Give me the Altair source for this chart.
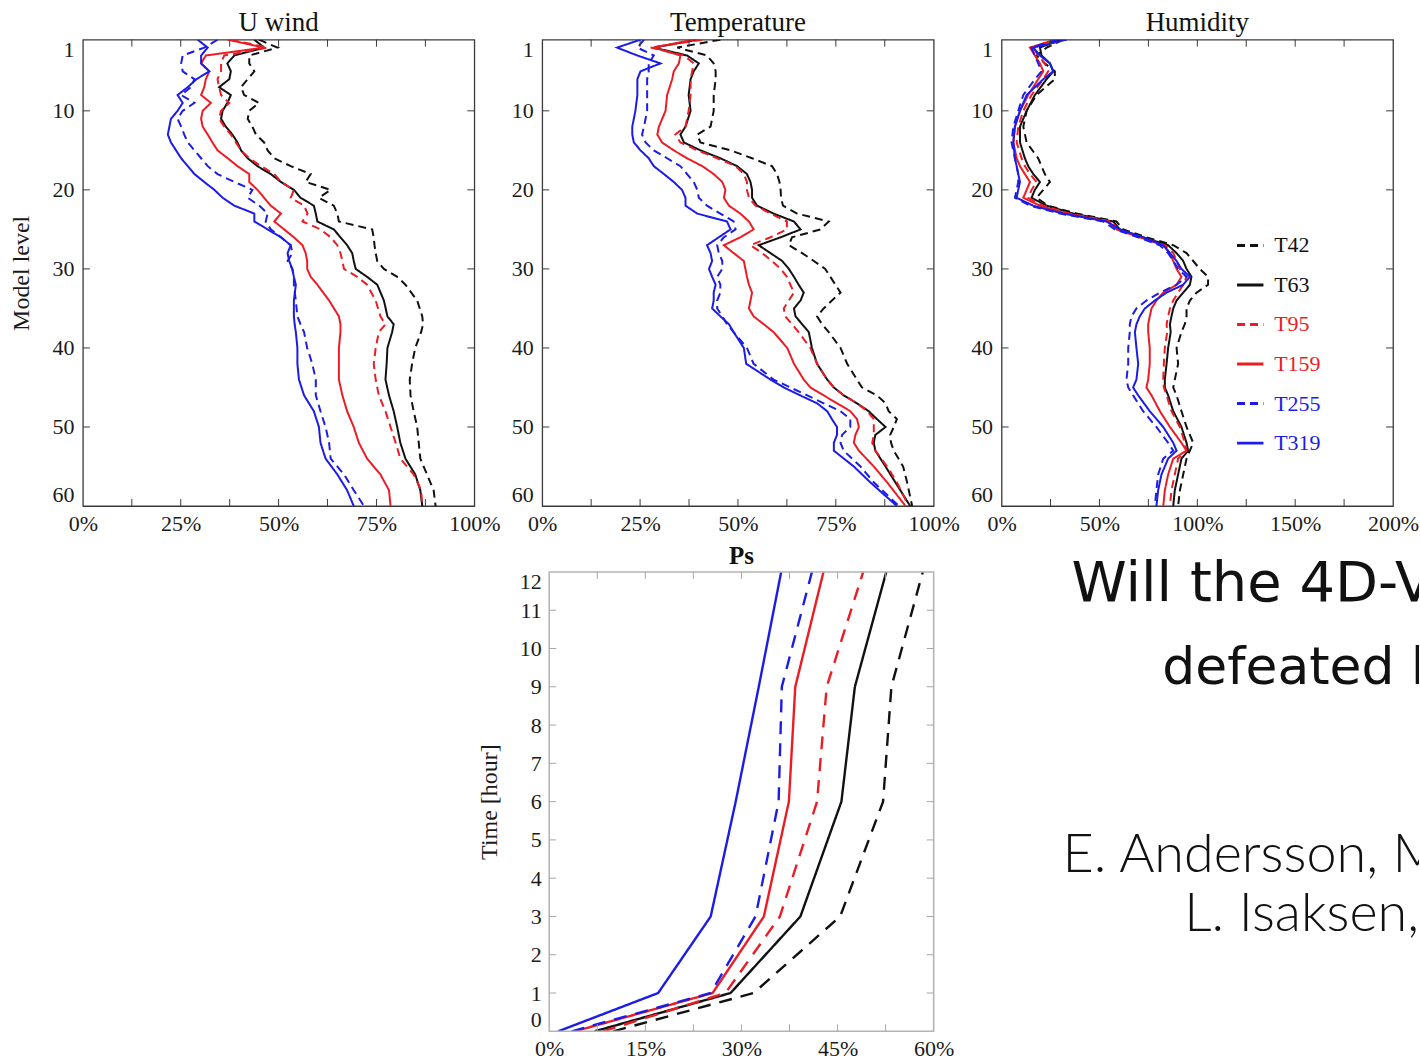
import altair as alt
import pandas as pd

SERIF = "Liberation Serif"
SERIES = ["T42", "T63", "T95", "T159", "T255", "T319"]
COLORS = ["#111111", "#111111", "#ec1c24", "#ec1c24", "#1c1ce8", "#1c1ce8"]
DASH_TOP = [[8, 5], [1, 0], [8, 5], [1, 0], [8, 5], [1, 0]]
DASH_PS = [[13, 9], [1, 0], [13, 9], [1, 0], [13, 9], [1, 0]]

# ---------------- U wind ----------------
U_LEVELS = list(range(1, 33)) + [34, 36, 37, 38, 40, 42, 44, 46, 48, 50, 52, 54, 56, 58, 60]
U_T42 = [45.0, 49.7, 42.5, 42.5, 43.8, 42.1, 40.4, 41.2, 45.0, 42.5,
         42.1, 43.3, 44.2, 46.3, 47.2, 48.9, 53.1, 58.2, 56.9, 63.3,
         60.3, 64.1, 65.0, 65.4, 73.9, 74.3, 74.5, 74.8, 75.2, 76.9,
         80.3, 82.4, 85.4, 86.7, 86.9, 86.4, 84.9, 84.1, 83.5, 83.7,
         84.5, 85.4, 85.8, 86.2, 87.9, 89.6, 90.1]
U_T63 = [43.8, 46.3, 38.7, 36.9, 37.8, 37.4, 34.8, 37.8, 36.9, 35.7,
         35.3, 36.5, 38.2, 39.5, 40.4, 42.1, 44.6, 48.0, 50.6, 53.9,
         55.6, 59.0, 59.5, 59.9, 64.1, 65.8, 67.5, 68.8, 69.2, 69.7,
         72.6, 75.2, 76.9, 77.8, 79.4, 79.0, 77.8, 77.6, 77.3, 78.2,
         79.4, 80.3, 81.1, 82.4, 84.9, 86.2, 86.7]
U_T95 = [37.8, 47.2, 36.1, 35.3, 35.3, 34.4, 34.8, 35.3, 37.4, 35.3,
         34.8, 36.1, 37.8, 39.1, 40.4, 42.5, 45.5, 48.9, 50.6, 53.9,
         53.1, 56.5, 57.4, 56.1, 60.7, 63.3, 65.0, 65.8, 66.3, 66.7,
         70.1, 72.6, 74.8, 76.0, 77.3, 75.6, 74.8, 74.3, 74.8, 75.6,
         77.3, 78.6, 79.9, 81.1, 84.5, 86.4, 86.7]
U_T159 = [37.0, 46.3, 31.4, 30.2, 32.3, 31.4, 31.0, 30.2, 32.7, 30.6,
          30.2, 30.6, 31.9, 33.1, 34.4, 37.0, 39.5, 42.5, 42.5, 44.6,
          46.3, 48.0, 50.6, 48.9, 51.4, 53.9, 56.1, 56.9, 57.3, 57.3,
          58.2, 59.9, 62.9, 65.4, 65.8, 65.8, 65.4, 65.4, 65.4, 66.3,
          67.5, 69.2, 70.5, 72.6, 76.0, 78.2, 78.6]
U_T255 = [34.4, 31.0, 25.5, 25.1, 25.5, 28.5, 27.6, 25.1, 28.5, 25.5,
          24.2, 25.1, 25.9, 26.8, 28.5, 30.2, 31.9, 34.4, 38.7, 43.3,
          42.1, 45.1, 47.2, 46.7, 48.0, 50.6, 53.1, 53.5, 52.3, 53.5,
          53.9, 53.9, 54.4, 54.8, 55.6, 56.5, 57.3, 58.6, 59.5, 59.5,
          60.7, 62.0, 62.9, 63.3, 66.7, 69.2, 71.8]
U_T319 = [29.3, 31.9, 30.2, 30.2, 32.3, 29.0, 26.8, 24.2, 25.5, 24.2,
          22.5, 22.1, 21.7, 22.5, 23.8, 25.1, 26.8, 28.5, 31.0, 33.6,
          35.7, 38.7, 43.8, 43.8, 47.2, 50.6, 53.1, 52.3, 52.7, 53.5,
          53.9, 54.4, 53.9, 53.9, 54.1, 54.4, 54.8, 54.8, 55.2, 56.5,
          59.0, 60.3, 60.7, 62.0, 65.0, 67.5, 69.2]

# ---------------- Temperature ----------------
T_LEVELS = [1, 2, 3, 4, 5, 6, 8, 10, 12] + list(range(13, 39)) + [40, 42, 44] + \
    list(range(45, 54)) + [55, 57, 60]
T_T42 = [45.5, 34.5, 42.1, 43.8, 44.3, 44.3, 43.8, 43.8, 43.0,
         39.6, 40.4, 48.1, 53.6, 58.7, 60.0, 60.6, 60.9, 61.0, 61.5, 65.1, 73.2, 71.1,
         63.8, 63.0, 66.4, 69.4, 72.3, 73.6, 74.9, 76.2, 74.0, 71.9, 70.2, 71.5, 73.2,
         76.2, 77.9, 80.4,
         81.7, 85.5, 87.7, 88.5, 90.6, 89.8, 88.9, 89.1, 89.8,
         92.2, 93.2, 94.5]
T_T63 = [39.6, 28.5, 37.0, 40.0, 38.7, 37.9, 37.4, 37.9, 36.6,
         35.3, 36.2, 40.4, 45.5, 49.8, 52.3, 53.2, 53.6, 53.6, 54.9, 59.1, 64.3, 66.0,
         60.9, 55.3, 58.3, 61.3, 63.0, 64.3, 65.5, 66.8, 66.0, 64.3, 64.7, 66.4, 68.1,
         68.9, 70.2, 72.8,
         74.5, 77.0, 80.4, 83.4, 85.5, 87.7, 85.1, 84.7, 85.1,
         87.7, 90.2, 94.0]
T_T95 = [40.9, 27.7, 36.2, 38.7, 38.3, 37.9, 37.9, 37.4, 36.6,
         34.0, 35.3, 39.6, 44.7, 49.4, 51.5, 52.3, 52.3, 52.8, 54.5, 58.3, 62.5, 62.5,
         58.3, 53.2, 56.2, 58.7, 60.9, 62.5, 63.4, 64.3, 63.0, 61.7, 62.1, 63.8, 65.5,
         68.5, 70.2, 72.8,
         74.5, 77.0, 80.4, 83.0, 84.7, 84.7, 84.7, 84.3, 85.1,
         88.1, 90.6, 93.6]
T_T159 = [38.7, 28.5, 35.3, 34.9, 33.6, 33.2, 31.9, 31.5, 29.8,
          29.4, 30.6, 33.6, 37.0, 40.9, 43.8, 46.0, 46.8, 46.4, 47.7, 50.6, 52.8, 54.0,
          50.6, 46.4, 48.9, 51.5, 51.9, 52.3, 52.8, 53.6, 53.2, 52.8, 54.0, 56.6, 59.1,
          62.6, 64.3, 66.8,
          68.5, 71.9, 75.3, 78.7, 80.4, 80.9, 80.0, 79.6, 80.9,
          84.7, 88.1, 92.8]
T_T255 = [26.0, 24.3, 28.5, 27.2, 27.2, 26.8, 26.8, 26.8, 26.0,
          25.5, 26.4, 28.5, 31.9, 35.3, 37.0, 38.7, 39.6, 40.0, 42.1, 45.5, 48.9, 49.4,
          46.4, 44.7, 45.1, 46.0, 46.0, 44.7, 45.5, 45.5, 44.7, 44.7, 46.0, 47.2, 48.9,
          52.3, 54.0, 59.1,
          63.4, 67.7, 71.9, 76.2, 78.7, 78.7, 76.6, 76.2, 77.0,
          81.3, 84.7, 91.1]
T_T319 = [25.1, 19.1, 24.3, 30.2, 25.1, 24.3, 24.3, 23.8, 23.0,
          23.0, 23.4, 25.1, 27.2, 28.5, 31.1, 33.6, 35.7, 36.6, 36.6, 39.6, 47.2, 48.1,
          45.1, 42.1, 43.0, 43.4, 42.6, 43.4, 44.3, 43.8, 43.8, 43.4, 45.5, 47.7, 48.9,
          51.5, 52.1, 58.3,
          61.7, 65.9, 70.2, 72.8, 74.0, 75.3, 75.3, 74.5, 74.5,
          79.6, 83.8, 90.6]

# ---------------- Humidity ----------------
H_LEVELS = [1, 2, 3, 4, 5, 6, 8, 10, 12, 14] + list(range(16, 39)) + \
    [40, 42, 44, 45, 46, 48, 50, 52, 53, 54, 56, 58, 60]
H_T42 = [31.5, 23.0, 17.9, 22.1, 27.2, 27.2, 17.9, 12.8, 11.1, 12.8,
         18.7, 20.4, 22.1, 24.7, 21.3, 17.9, 23.8, 38.3, 58.7, 62.1, 74.0, 87.7,
         94.5, 97.9, 101.3, 105.5, 105.5, 99.6, 96.2, 94.5, 94.5, 93.6, 91.9,
         89.4, 90.2, 88.5, 87.7, 89.4, 91.9, 94.5, 97.9, 96.2, 94.5, 92.8, 91.1, 90.2]
H_T63 = [29.8, 19.6, 20.4, 24.7, 26.4, 23.0, 17.0, 12.8, 9.4, 9.4,
         11.9, 13.6, 16.2, 19.6, 17.0, 15.3, 23.0, 36.6, 57.0, 60.4, 72.3, 85.1,
         89.4, 92.8, 94.5, 97.0, 96.2, 92.8, 89.4, 87.7, 86.8, 86.0, 86.4,
         85.1, 84.3, 83.4, 83.4, 85.1, 87.7, 91.9, 94.5, 95.3, 91.9, 90.2, 88.5, 87.7]
H_T95 = [28.1, 16.2, 18.7, 22.1, 23.8, 21.3, 15.3, 11.1, 8.5, 7.7,
         10.2, 11.9, 14.5, 17.9, 15.3, 13.6, 21.3, 34.9, 56.2, 59.6, 71.5, 83.4,
         87.7, 89.4, 91.1, 94.5, 92.8, 90.2, 87.7, 86.0, 85.1, 84.3, 84.6,
         83.4, 82.9, 82.6, 82.9, 84.3, 86.8, 91.1, 93.6, 94.5, 90.2, 88.5, 86.8, 86.0]
H_T159 = [27.2, 14.5, 17.0, 19.6, 21.3, 18.7, 13.6, 9.4, 6.8, 6.0,
          7.7, 9.4, 11.9, 14.5, 12.8, 11.1, 19.6, 33.2, 54.5, 58.7, 70.6, 82.6,
          86.0, 87.7, 89.4, 91.9, 89.4, 82.6, 79.1, 76.6, 75.7, 74.9, 74.9,
          75.7, 75.7, 74.9, 74.0, 76.6, 80.9, 86.0, 91.9, 94.5, 87.7, 85.1, 83.4, 82.6]
H_T255 = [28.1, 15.3, 17.0, 18.7, 20.4, 17.0, 11.1, 8.5, 6.0, 5.1,
          6.8, 7.7, 8.5, 8.5, 7.7, 6.8, 14.5, 29.8, 51.9, 57.9, 69.8, 80.9,
          85.1, 87.7, 90.2, 94.5, 89.4, 80.9, 74.0, 68.9, 66.4, 65.5, 65.5,
          64.7, 64.7, 63.8, 64.7, 67.2, 72.3, 79.1, 85.1, 87.7, 82.6, 80.0, 79.1, 78.3]
H_T319 = [33.2, 16.2, 19.6, 24.7, 26.4, 21.3, 12.8, 9.4, 6.8, 6.0,
          6.8, 7.7, 8.5, 9.4, 8.5, 7.7, 16.2, 31.5, 53.6, 60.4, 72.3, 82.6,
          86.0, 89.4, 91.9, 96.2, 92.8, 84.3, 78.3, 73.2, 70.6, 68.9, 68.1,
          68.9, 69.8, 68.9, 67.2, 69.8, 75.7, 82.6, 87.7, 89.4, 85.1, 81.7, 80.0, 79.1]

# ---------------- Ps ----------------
PS_HOURS = [0, 1, 3, 6, 9, 12]
PS_T42 = [10.0, 31.9, 45.4, 52.1, 53.4, 58.3]
PS_T63 = [7.1, 28.3, 39.2, 45.6, 47.7, 52.6]
PS_T95 = [8.4, 27.5, 36.0, 41.8, 43.3, 49.0]
PS_T159 = [4.0, 25.5, 33.5, 37.4, 38.4, 42.8]
PS_T255 = [3.5, 25.2, 32.2, 35.8, 36.3, 41.0]
PS_T319 = [1.4, 17.0, 25.2, 29.1, 32.7, 36.2]

# tick / label values
Y_LABELS = [1, 10, 20, 30, 40, 50, 60]
Y_TICKS = [10, 20, 30, 40, 50]
PCT100_LABELS = [0, 25, 50, 75, 100]
PCT100_TICKS = [12.5, 25, 37.5, 50, 62.5, 75, 87.5]
PCT200_LABELS = [0, 50, 100, 150, 200]
PCT200_TICKS = [25, 50, 75, 100, 125, 150, 175]
PS_X_LABELS = [0, 15, 30, 45, 60]
PS_X_TICKS = [7.5, 15, 22.5, 30, 37.5, 45, 52.5]
PS_Y_LABELS = list(range(0, 13))
PS_Y_TICKS = list(range(1, 12))

TEXT_LINES = ["Will the 4D-Var", "defeated by", "E. Andersson, M.", "L. Isaksen,"]


def long_df(levels, tables, key):
    rows = []
    for name, vals in zip(SERIES, tables):
        assert len(vals) == len(levels), (name, len(vals), len(levels))
        for lv, v in zip(levels, vals):
            rows.append({key: lv, "value": v, "series": name})
    return pd.DataFrame(rows)


U_DF = long_df(U_LEVELS, [U_T42, U_T63, U_T95, U_T159, U_T255, U_T319], "level")
T_DF = long_df(T_LEVELS, [T_T42, T_T63, T_T95, T_T159, T_T255, T_T319], "level")
H_DF = long_df(H_LEVELS, [H_T42, H_T63, H_T95, H_T159, H_T255, H_T319], "level")
PS_DF = long_df(PS_HOURS, [PS_T42, PS_T63, PS_T95, PS_T159, PS_T255, PS_T319], "hour")

FRAME_DARK = "#3a3a3a"
FRAME_LIGHT = "#b4b4b4"
LABEL_COLOR = "#1a1a1a"
TICK_LEN = 7
W_TOP, H_TOP = 392, 467
PS_CELL_W, PS_CELL_H = 392, 488
PS_X0, PS_X1, PS_Y0, PS_Y1 = 7, 392, 28, 488
ONE = pd.DataFrame({"a": [0]})


def tick_layers(xs, ys, xax, yax, xticks, yticks, x0, x1, y0, y1, color):
    xt = pd.DataFrame({"t": xticks})
    yt = pd.DataFrame({"t": yticks})
    bx = alt.X("t:Q", scale=xs, axis=xax)
    by = alt.Y("t:Q", scale=ys, axis=yax)
    rule = dict(color=color, strokeWidth=1)
    return [
        alt.Chart(xt).mark_rule(**rule).encode(x=bx, y=alt.value(y0), y2=alt.value(y0 + TICK_LEN)),
        alt.Chart(xt).mark_rule(**rule).encode(x=bx, y=alt.value(y1), y2=alt.value(y1 - TICK_LEN)),
        alt.Chart(yt).mark_rule(**rule).encode(y=by, x=alt.value(x0), x2=alt.value(x0 + TICK_LEN)),
        alt.Chart(yt).mark_rule(**rule).encode(y=by, x=alt.value(x1), x2=alt.value(x1 - TICK_LEN)),
    ]


def label_color_expr():
    parts = []
    for name, col in zip(SERIES, COLORS):
        parts.append(f"datum.label === '{name}' ? '{col}' : ")
    return "".join(parts) + "'#000000'"


def x_axis(values, pad):
    return alt.Axis(values=values, labelExpr="datum.value + '%'", title=None,
                    domain=False, ticks=False, grid=False, labelFlush=False,
                    labelOverlap=False, labelFont=SERIF, labelFontSize=22,
                    labelColor=LABEL_COLOR, labelPadding=pad)


def title_mark(text, x, y, size, weight):
    return alt.Chart(ONE).mark_text(font=SERIF, fontSize=size, fontWeight=weight,
                                    color="#111111", align="center",
                                    baseline="alphabetic").encode(
        x=alt.value(x), y=alt.value(y), text=alt.value(text))


def profile_panel(df, title, xmax, xlabels, xticks, ytitle=None, with_legend=False):
    xs = alt.Scale(domain=[0, xmax], nice=False, zero=False)
    ys = alt.Scale(domain=[60, 1], nice=False, zero=False)
    yax = dict(values=Y_LABELS, domain=False, ticks=False, grid=False,
               labelFlush=True, labelOverlap=False, labelFont=SERIF,
               labelFontSize=22, labelColor=LABEL_COLOR, labelPadding=9)
    if ytitle:
        y_ax = alt.Axis(title=ytitle, titleFont=SERIF, titleFontSize=24,
                        titleFontWeight="normal", titleColor=LABEL_COLOR,
                        titlePadding=18, **yax)
    else:
        y_ax = alt.Axis(title=None, **yax)
    x_ax = x_axis(xlabels, 8)
    if with_legend:
        leg = alt.Legend(orient="none", legendX=234, legendY=191, title=None,
                         symbolType="stroke", symbolSize=700, symbolStrokeWidth=3,
                         labelFont=SERIF, labelFontSize=22, labelOffset=9,
                         rowPadding=13.6, padding=0,
                         labelColor=alt.ExprRef(expr=label_color_expr()))
    else:
        leg = None
    lines = alt.Chart(df).mark_line(strokeWidth=2, clip=True).encode(
        x=alt.X("value:Q", scale=xs, axis=x_ax),
        y=alt.Y("level:Q", scale=ys, axis=y_ax),
        color=alt.Color("series:N", scale=alt.Scale(domain=SERIES, range=COLORS), legend=leg),
        strokeDash=alt.StrokeDash("series:N", scale=alt.Scale(domain=SERIES, range=DASH_TOP), legend=leg),
        order=alt.Order("level:Q"),
    )
    layers = [lines] + tick_layers(xs, ys, x_ax, y_ax, xticks, Y_TICKS,
                                   0, W_TOP, 0, H_TOP, FRAME_DARK)
    layers.append(title_mark(title, W_TOP / 2, -9, 27, "normal"))
    return alt.layer(*layers).properties(
        width=W_TOP, height=H_TOP,
        view=alt.ViewBackground(stroke=FRAME_DARK, strokeWidth=1.3),
    )


def ps_panel():
    xs = alt.Scale(domain=[0, 60], range=[PS_X0, PS_X1], nice=False, zero=False)
    ys = alt.Scale(domain=[0, 12], range=[PS_Y1, PS_Y0], nice=False, zero=False)
    y_ax = alt.Axis(values=PS_Y_LABELS, title="Time [hour]", titleFont=SERIF,
                    titleFontSize=24, titleFontWeight="normal", titleColor=LABEL_COLOR,
                    titlePadding=18, domain=False, ticks=False, grid=False,
                    labelFlush=True, labelOverlap=False, labelFont=SERIF,
                    labelFontSize=22, labelColor=LABEL_COLOR, labelPadding=1)
    x_ax = x_axis(PS_X_LABELS, 7)
    lines = alt.Chart(PS_DF).mark_line(strokeWidth=2.4, clip=True).encode(
        x=alt.X("value:Q", scale=xs, axis=x_ax),
        y=alt.Y("hour:Q", scale=ys, axis=y_ax),
        color=alt.Color("series:N", scale=alt.Scale(domain=SERIES, range=COLORS), legend=None),
        strokeDash=alt.StrokeDash("series:N", scale=alt.Scale(domain=SERIES, range=DASH_PS), legend=None),
        order=alt.Order("hour:Q"),
    )
    frame = alt.Chart(ONE).mark_rect(fill="transparent", stroke=FRAME_LIGHT, strokeWidth=1.6).encode(
        x=alt.value(PS_X0), x2=alt.value(PS_X1), y=alt.value(PS_Y0), y2=alt.value(PS_Y1))
    layers = [lines, frame, title_mark("Ps", (PS_X0 + PS_X1) / 2, PS_Y0 - 8, 25, "bold")]
    layers += tick_layers(xs, ys, x_ax, y_ax, PS_X_TICKS, PS_Y_TICKS,
                          PS_X0, PS_X1, PS_Y0, PS_Y1, "#a8a8a8")
    return alt.layer(*layers).properties(
        width=PS_CELL_W, height=PS_CELL_H,
        view=alt.ViewBackground(stroke="transparent"),
    )


def spacer(w, h):
    return alt.Chart(ONE).mark_point(opacity=0).encode(
        x=alt.X("a:Q", axis=None), y=alt.Y("a:Q", axis=None)
    ).properties(width=w, height=h, view=alt.ViewBackground(stroke="transparent"))


def text_panel():
    specs = [
        (TEXT_LINES[0], 70, 57, "DejaVu Sans", 56, "normal"),
        (TEXT_LINES[1], 161, 140, "DejaVu Sans", 52, "normal"),
        (TEXT_LINES[2], 61, 328, "Lato", 54, 300),
        (TEXT_LINES[3], 183, 388, "Lato", 54, 300),
    ]
    layers = []
    for s, x, y, font, size, weight in specs:
        layers.append(
            alt.Chart(ONE).mark_text(align="left", baseline="alphabetic", font=font,
                                     fontSize=size, fontWeight=weight, color="#111111",
                                     clip=True).encode(
                x=alt.value(x), y=alt.value(y), text=alt.value(s))
        )
    return alt.layer(*layers).properties(
        width=418, height=430, view=alt.ViewBackground(stroke="transparent"))


u = profile_panel(U_DF, "U wind", 100, PCT100_LABELS, PCT100_TICKS, ytitle="Model level")
t = profile_panel(T_DF, "Temperature", 100, PCT100_LABELS, PCT100_TICKS)
h = profile_panel(H_DF, "Humidity", 200, PCT200_LABELS, PCT200_TICKS, with_legend=True)

RES_S = dict(color="independent", strokeDash="independent")

chart = alt.concat(u, t, h, spacer(392, 10), ps_panel(), text_panel(),
                   columns=3, spacing={"row": 38, "column": 68}, bounds="flush") \
    .resolve_scale(**RES_S).resolve_legend(**RES_S) \
    .properties(padding={"left": 9, "top": 7, "right": 0, "bottom": 0}, background="white") \
    .configure_view(stroke="transparent")

chart.save("out.html", embed_options={"renderer": "svg", "actions": False})
